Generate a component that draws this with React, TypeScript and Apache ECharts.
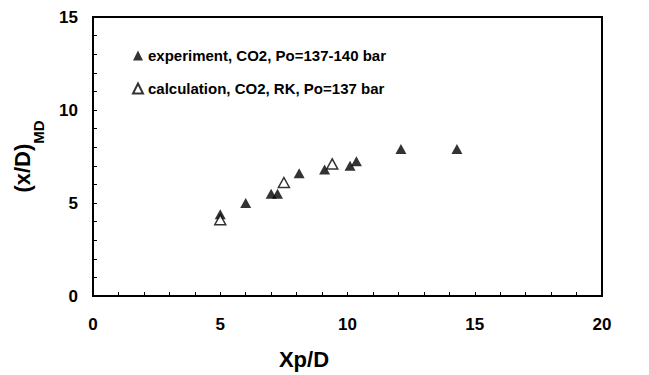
import React, { useEffect, useRef } from "react";
import * as echarts from "echarts";

const expX = [5.0, 6.0, 7.0, 7.25, 8.1, 9.1, 10.1, 10.35, 12.1, 14.3];
const expY = [4.4, 5.0, 5.5, 5.5, 6.6, 6.8, 7.0, 7.25, 7.9, 7.9];
const calcX = [5.0, 7.5, 9.4];
const calcY = [4.1, 6.1, 7.1];
const expName = "experiment, CO2, Po=137-140 bar";
const calcName = "calculation, CO2, RK, Po=137 bar";
const xTitle = "Xp/D";
const yTitleMain = "(x/D)";
const yTitleSub = "MD";

const FONT = "'Liberation Sans', Arial, Helvetica, sans-serif";
const INK = "#000";

export default function App() {
  const ref = useRef<HTMLDivElement>(null);
  useEffect(() => {
    document.body.style.margin = "0";
    const chart = echarts.init(ref.current!, null, { renderer: "svg" });
    const expData = expX.map((x, i) => [x, expY[i]]);
    const calcData = calcX.map((x, i) => [x, calcY[i]]);
    chart.setOption({
      animation: false,
      backgroundColor: "#fff",
      grid: {
        left: 93,
        right: 47,
        top: 17,
        bottom: 74,
        show: true,
        borderColor: INK,
        borderWidth: 2,
        backgroundColor: "transparent",
      },
      legend: {
        orient: "vertical",
        left: 127,
        top: 43,
        itemWidth: 10,
        itemHeight: 10,
        itemGap: 18,
        textStyle: { fontFamily: FONT, fontWeight: "bold", fontSize: 15, color: INK },
        data: [expName, calcName],
      },
      xAxis: {
        type: "value",
        min: 0,
        max: 20,
        interval: 1,
        axisLine: { show: true, lineStyle: { color: INK, width: 2 } },
        axisTick: { show: true, inside: true, length: 4, lineStyle: { color: INK, width: 1 } },
        splitLine: { show: false },
        axisLabel: {
          margin: 20,
          fontFamily: FONT,
          fontWeight: "bold",
          fontSize: 17,
          color: INK,
          formatter: (v: number) => (v % 5 === 0 ? String(v) : ""),
        },
        name: xTitle,
        nameLocation: "middle",
        nameGap: 52,
        nameTextStyle: {
          fontFamily: FONT,
          fontWeight: "bold",
          fontSize: 22,
          color: INK,
          padding: [0, 87, 0, 0],
        },
      },
      yAxis: {
        type: "value",
        min: 0,
        max: 15,
        interval: 1,
        axisLine: { show: true, lineStyle: { color: INK, width: 2 } },
        axisTick: { show: true, inside: true, length: 4, lineStyle: { color: INK, width: 1 } },
        splitLine: { show: false },
        axisLabel: {
          margin: 15,
          fontFamily: FONT,
          fontWeight: "bold",
          fontSize: 17,
          color: INK,
          formatter: (v: number) => (v % 5 === 0 ? String(v) : ""),
        },
        name: `{a|${yTitleMain}}{b|${yTitleSub}}`,
        nameLocation: "middle",
        nameGap: 56,
        nameTextStyle: {
          fontFamily: FONT,
          fontWeight: "bold",
          color: INK,
          rich: {
            a: { fontFamily: FONT, fontWeight: "bold", fontSize: 22, lineHeight: 26, verticalAlign: "top", color: INK },
            b: {
              fontFamily: FONT,
              fontWeight: "bold",
              fontSize: 15,
              lineHeight: 16,
              padding: [20, 0, 0, 0],
              verticalAlign: "top",
              color: INK,
            },
          },
        },
      },
      series: [
        {
          name: expName,
          type: "scatter",
          symbol: "triangle",
          symbolSize: [11, 10],
          itemStyle: { color: INK },
          data: expData,
        },
        {
          name: calcName,
          type: "scatter",
          symbol: "triangle",
          symbolSize: [11, 10],
          itemStyle: { color: "#fff", borderColor: INK, borderWidth: 1.5 },
          data: calcData,
        },
      ],
    });
    return () => chart.dispose();
  }, []);
  return <div ref={ref} style={{ width: 649, height: 375 }} />;
}
